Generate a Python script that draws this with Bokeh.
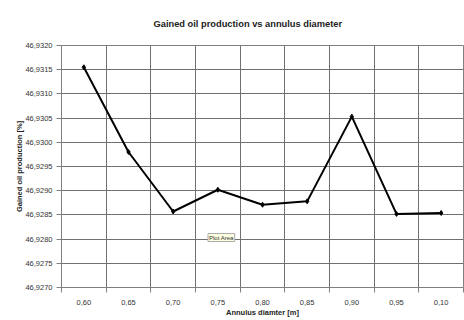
from bokeh.plotting import figure
from bokeh.models import FixedTicker, CustomJSTickFormatter, Label, Range1d
from bokeh.embed import file_html
from bokeh.resources import INLINE

categories = ["0,60", "0,65", "0,70", "0,75", "0,80", "0,85", "0,90", "0,95", "0,10"]
gained = [46.93155, 46.92980, 46.92857, 46.92902, 46.92871, 46.92878, 46.93053, 46.92852, 46.92854]
y_ticks = [46.9270, 46.9275, 46.9280, 46.9285, 46.9290, 46.9295, 46.9300, 46.9305, 46.9310, 46.9315, 46.9320]

n = len(categories)
xs = [i + 0.5 for i in range(n)]

p = figure(width=464, height=320, output_backend="svg", toolbar_location=None,
           x_range=Range1d(0, n), y_range=Range1d(y_ticks[0], y_ticks[-1]),
           title="Gained oil production vs annulus diameter")
p.min_border_left = 61
p.min_border_right = 1
p.min_border_top = 45
p.min_border_bottom = 33
p.background_fill_color = "white"
p.border_fill_color = "white"
p.outline_line_color = "#808080"

p.title.align = "left"
p.title.text_font = "Liberation Sans"
p.title.text_font_size = "9.3px"
p.title.text_font_style = "bold"
p.title.text_color = "#222222"
p.title.standoff = 33
p.title.offset = 92

p.line(xs, gained, line_color="black", line_width=2)
p.scatter(xs, gained, marker="diamond", size=5, color="black")

# x axis
p.xaxis.ticker = FixedTicker(ticks=xs, minor_ticks=list(range(n + 1)))
p.xaxis.major_label_overrides = {x: c for x, c in zip(xs, categories)}
p.xaxis.major_tick_line_color = None
p.xaxis.major_tick_out = 0
p.xaxis.minor_tick_out = 5
p.xaxis.minor_tick_in = 0
p.xaxis.minor_tick_line_color = "#808080"
p.xaxis.axis_line_color = "#808080"
p.xaxis.axis_label = "Annulus diamter [m]"
p.xaxis.major_label_standoff = 7
p.xaxis.axis_label_standoff = 0

# y axis
p.yaxis.ticker = FixedTicker(ticks=y_ticks)
p.yaxis.formatter = CustomJSTickFormatter(code="return tick.toFixed(4).replace('.', ',');")
p.yaxis.major_tick_out = 5
p.yaxis.major_tick_in = 0
p.yaxis.minor_tick_line_color = None
p.yaxis.major_tick_line_color = "#808080"
p.yaxis.axis_line_color = "#808080"
p.yaxis.axis_label = "Gained oil production [%]"
p.yaxis.major_label_standoff = 4
p.yaxis.axis_label_standoff = -2

for ax in (p.xaxis[0], p.yaxis[0]):
    ax.major_label_text_font = "Liberation Sans"
    ax.major_label_text_font_size = "7.5px"
    ax.major_label_text_color = "#333333"
    ax.axis_label_text_font = "Liberation Sans"
    ax.axis_label_text_font_size = "7.5px"
    ax.axis_label_text_font_style = "bold"
    ax.axis_label_text_color = "#222222"

# grids
p.xgrid.ticker = FixedTicker(ticks=list(range(n + 1)))
p.xgrid.grid_line_color = "#707070"
p.ygrid.grid_line_color = "#707070"
p.xgrid.grid_line_width = 1
p.ygrid.grid_line_width = 1

tip = Label(x=3.28, y=46.92795, text="Plot Area", text_font="Liberation Sans",
            text_font_size="6px", text_color="#333333",
            background_fill_color="#ffffe1", border_line_color="#aaaaaa",
            padding=1)
p.add_layout(tip)

open("out.html", "w").write(file_html(p, INLINE))
